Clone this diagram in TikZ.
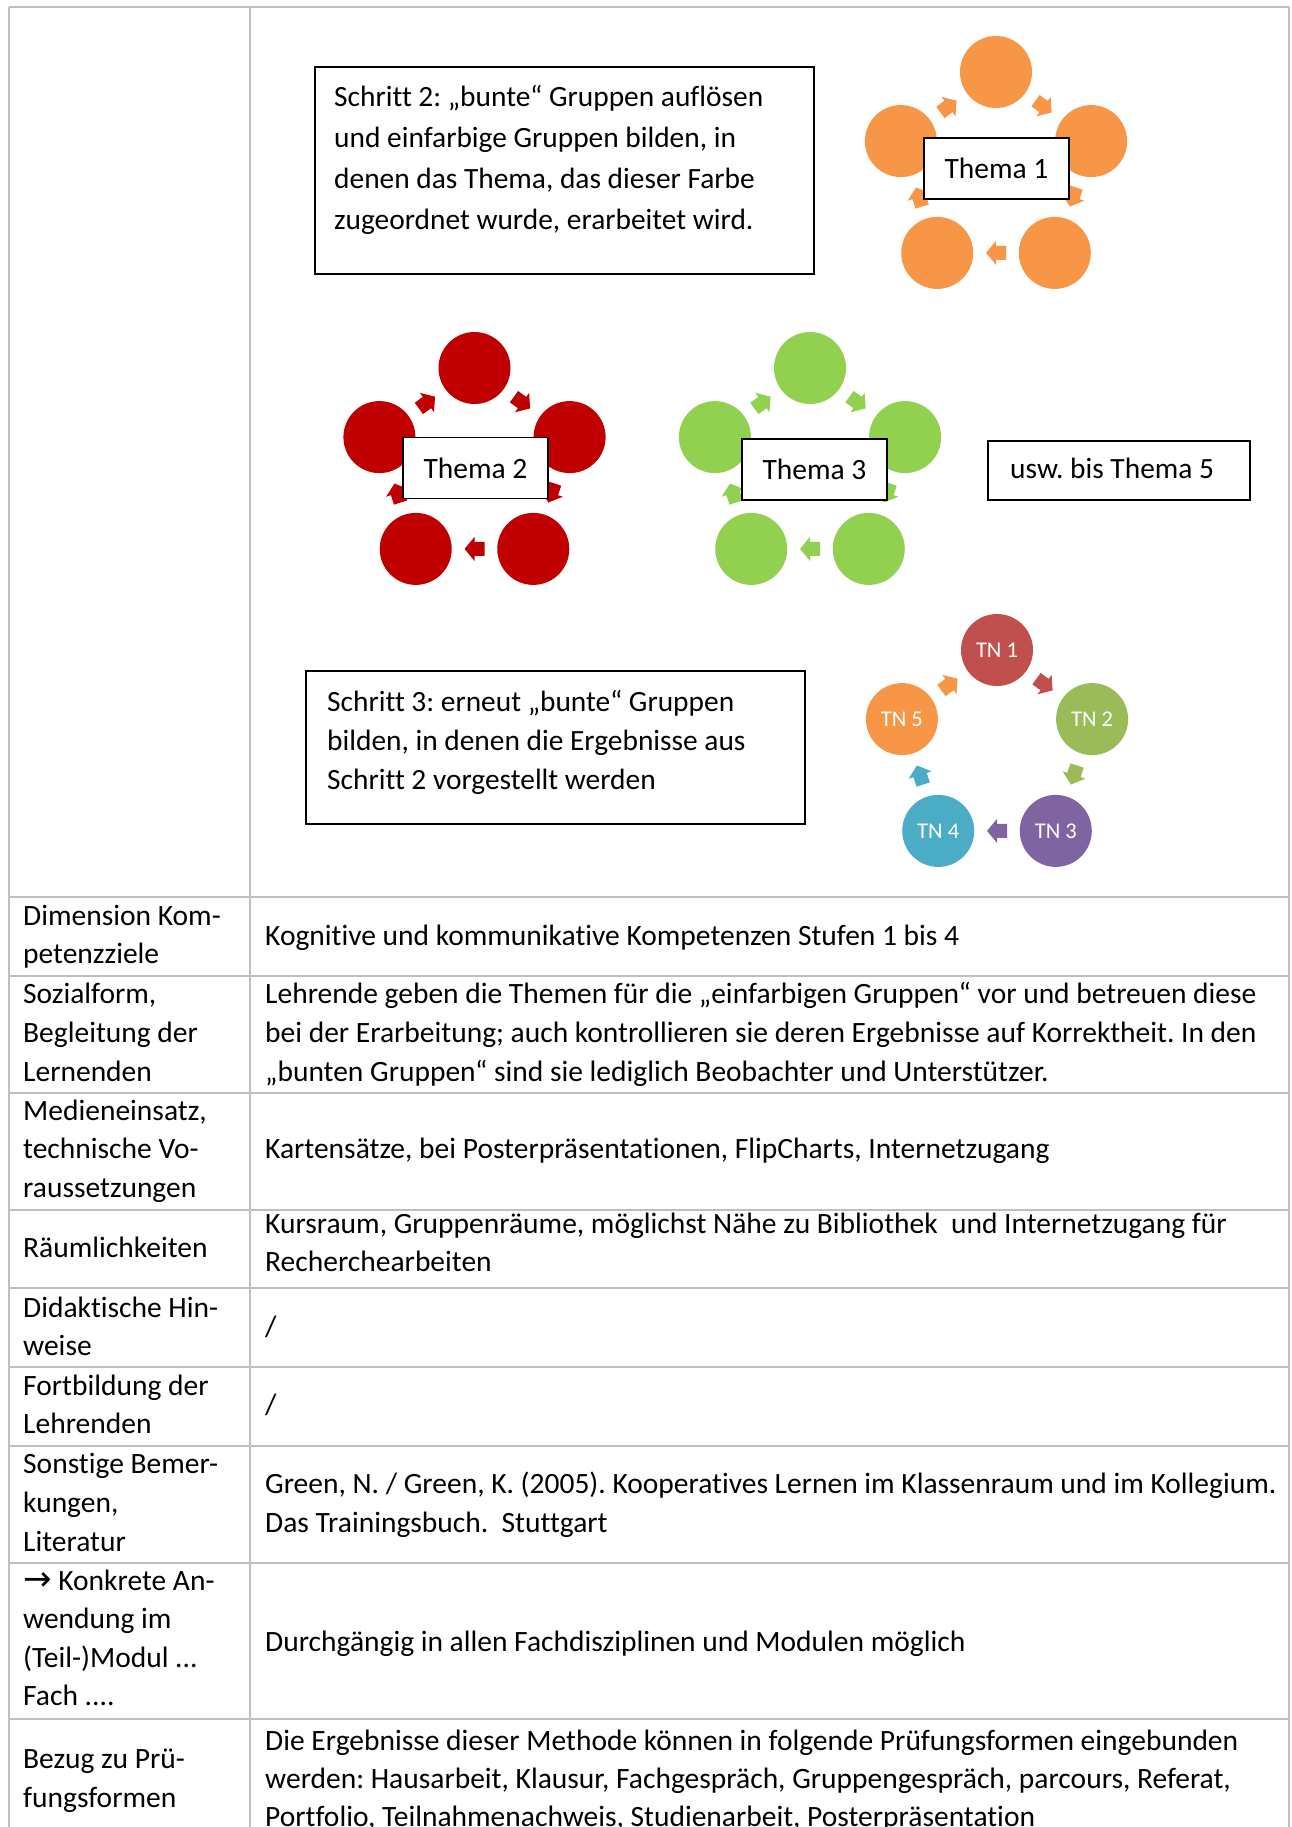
\documentclass[tikz,border=0pt]{standalone}
\usepackage{fontspec}
\setmainfont{Carlito}[Ligatures={TeX,NoCommon}]
\newfontfamily\arrowfont{DejaVu Sans}
\usetikzlibrary{calc}
\definecolor{gridgray}{HTML}{BFBFBF}
\definecolor{orA}{HTML}{F79646}
\definecolor{rdA}{HTML}{C00000}
\definecolor{grA}{HTML}{92D050}
\definecolor{tnA}{HTML}{C0504D}
\definecolor{tnB}{HTML}{9BBB59}
\definecolor{tnC}{HTML}{8064A2}
\definecolor{tnD}{HTML}{4BACC6}
\definecolor{tnE}{HTML}{F79646}
\tikzset{
  pics/blockarr/.style={code={\fill (-10,-7) -- (0,-7) -- (0,-12) -- (10,0) -- (0,12) -- (0,7) -- (-10,7) -- cycle;}}
}
\frenchspacing
\begin{document}
\frenchspacing
\begin{tikzpicture}[x=1pt,y=-1pt,
  txt/.style={anchor=base west, inner sep=0pt, font=\fontsize{29.5}{38}\selectfont},
  dtxt/.style={anchor=base west, inner sep=0pt, font=\fontsize{29.4}{38}\selectfont},
  gridline/.style={draw=gridgray, line width=2pt},
  circ/.style={circle, inner sep=0pt, minimum size=72pt},
  themabox/.style={draw=black, line width=1.8pt, fill=white, minimum width=145pt, minimum height=61pt, inner sep=0pt, font=\fontsize{29.5}{38}\selectfont},
  framebox/.style={draw=black, line width=1.8pt, inner sep=0pt},
  tnlabel/.style={text=white, font=\fontsize{22.5}{27}\selectfont}
]
\useasboundingbox (0,0) rectangle (1292,1827);
\fill[white] (0,0) rectangle (1292,1827);

% table grid
\foreach \y in {7,897,976,1093,1210,1288,1367,1446,1563,1719}
  \draw[gridline] (9,\y) -- (1289,\y);
\foreach \x in {9,250,1289}
  \draw[gridline] (\x,7) -- (\x,1840);

% ---------- Schritt 2 box
\node[framebox, minimum width=499pt, minimum height=207pt] (s2box) at (564.5,170.5) {};
\node[dtxt] (s2a) at (334,107) {Schritt 2: „bunte“ Gruppen auflösen};
\node[dtxt] (s2b) at (334,147.8) {und einfarbige Gruppen bilden, in};
\node[dtxt] (s2c) at (334,188.6) {denen das Thema, das dieser Farbe};
\node[dtxt] (s2d) at (334,229.4) {zugeordnet wurde, erarbeitet wird.};

% ---------- Thema pentagons
\coordinate (oc) at (996,172);
\coordinate (rc) at (474.5,468);
\coordinate (gc) at (810,468);
\coordinate (tnc) at (997,750);

\foreach \i/\a in {1/-90,2/-18,3/54,4/126,5/198} {
  \node[circ, fill=orA] (o\i) at ($(oc)+(\a:100)$) {};
  \node[circ, fill=rdA] (r\i) at ($(rc)+(\a:100)$) {};
  \node[circ, fill=grA] (g\i) at ($(gc)+(\a:100)$) {};
}
\foreach \i/\a in {1/-90,2/-18,3/54,4/126,5/198} {
  \pic[color=orA, rotate={-(\a+126)}] at ($(oc)+(\a+36:80.9)$) {blockarr};
  \pic[color=rdA, rotate={-(\a+126)}] at ($(rc)+(\a+36:80.9)$) {blockarr};
  \pic[color=grA, rotate={-(\a+126)}] at ($(gc)+(\a+36:80.9)$) {blockarr};
}
\node[themabox] (th1) at (996.5,168.5) {Thema 1};
\node[themabox] (th2) at (475.5,468) {Thema 2};
\node[themabox] (th3) at (814.5,469.5) {Thema 3};

\node[framebox, minimum width=262pt, minimum height=59pt] (uswbox) at (1119,470.5) {};
\node[dtxt] (usw) at (1010,478) {usw. bis Thema 5};

% ---------- Schritt 3
\node[framebox, minimum width=499pt, minimum height=153pt] (s3box) at (555.5,747.5) {};
\node[dtxt] (s3a) at (327,711) {Schritt 3: erneut „bunte“ Gruppen};
\node[dtxt] (s3b) at (327,750) {bilden, in denen die Ergebnisse aus};
\node[dtxt] (s3c) at (327,789) {Schritt 2 vorgestellt werden};

% ---------- TN cycle
\foreach \i/\a/\col in {1/-90/tnA,2/-18/tnB,3/54/tnC,4/126/tnD,5/198/tnE}
  \node[circ, fill=\col, tnlabel] (tn\i) at ($(tnc)+(\a:100)$) {TN \i};
\foreach \i/\a/\col in {1/-90/tnA,2/-18/tnB,3/54/tnC,4/126/tnD,5/198/tnE}
  \pic[color=\col, rotate={-(\a+126)}] at ($(tnc)+(\a+36:80.9)$) {blockarr};

% ---------- table text, left column
\node[txt] (l2a) at (23,925) {Dimension Kom-};
\node[txt] (l2b) at (23,963) {petenzziele};
\node[txt] (l3a) at (23,1003) {Sozialform,};
\node[txt] (l3b) at (23,1042) {Begleitung der};
\node[txt] (l3c) at (23,1081) {Lernenden};
\node[txt] (l4a) at (23,1120) {Medieneinsatz,};
\node[txt] (l4b) at (23,1158) {technische Vo-};
\node[txt] (l4c) at (23,1197) {raussetzungen};
\node[txt] (l5a) at (23,1257) {Räumlichkeiten};
\node[txt] (l6a) at (23,1317) {Didaktische Hin-};
\node[txt] (l6b) at (23,1355) {weise};
\node[txt] (l7a) at (23,1395) {Fortbildung der};
\node[txt] (l7b) at (23,1433) {Lehrenden};
\node[txt] (l8a) at (23,1473) {Sonstige Bemer-};
\node[txt] (l8b) at (23,1512) {kungen,};
\node[txt] (l8c) at (23,1551) {Literatur};
\node[txt] (l9a) at (23,1590) {{\arrowfont\fontsize{34}{38}\selectfont →} Konkrete An-};
\node[txt] (l9b) at (23,1628) {wendung im};
\node[txt] (l9c) at (23,1667) {(Teil-)Modul ...};
\node[txt] (l9d) at (23,1705) {Fach ....};
\node[txt] (l10a) at (23,1768) {Bezug zu Prü-};
\node[txt] (l10b) at (23,1807) {fungsformen};

% ---------- table text, right column
\node[txt] (r2a) at (265,945) {Kognitive und kommunikative Kompetenzen Stufen 1 bis 4};
\node[txt] (r3a) at (265,1003) {Lehrende geben die Themen für die „einfarbigen Gruppen“ vor und betreuen diese};
\node[txt] (r3b) at (265,1042) {bei der Erarbeitung; auch kontrollieren sie deren Ergebnisse auf Korrektheit. In den};
\node[txt] (r3c) at (265,1081) {„bunten Gruppen“ sind sie lediglich Beobachter und Unterstützer.};
\node[txt] (r4a) at (265,1158) {Kartensätze, bei Posterpräsentationen, FlipCharts, Internetzugang};
\node[txt] (r5a) at (265,1233) {Kursraum, Gruppenräume, möglichst Nähe zu Bibliothek\ \ und Internetzugang für};
\node[txt] (r5b) at (265,1271) {Recherchearbeiten};
\node[txt] (r6a) at (265,1336) {/};
\node[txt] (r7a) at (265,1414) {/};
\node[txt] (r8a) at (265,1493) {Green, N. / Green, K. (2005). Kooperatives Lernen im Klassenraum und im Kollegium.};
\node[txt] (r8b) at (265,1532) {Das Trainingsbuch.\ \ Stuttgart};
\node[txt] (r9a) at (265,1651) {Durchgängig in allen Fachdisziplinen und Modulen möglich};
\node[txt] (r10a) at (265,1750) {Die Ergebnisse dieser Methode können in folgende Prüfungsformen eingebunden};
\node[txt] (r10b) at (265,1788) {werden: Hausarbeit, Klausur, Fachgespräch, Gruppengespräch, parcours, Referat,};
\node[txt] (r10c) at (265,1826) {Portfolio, Teilnahmenachweis, Studienarbeit, Posterpräsentation};
\end{tikzpicture}
\end{document}
